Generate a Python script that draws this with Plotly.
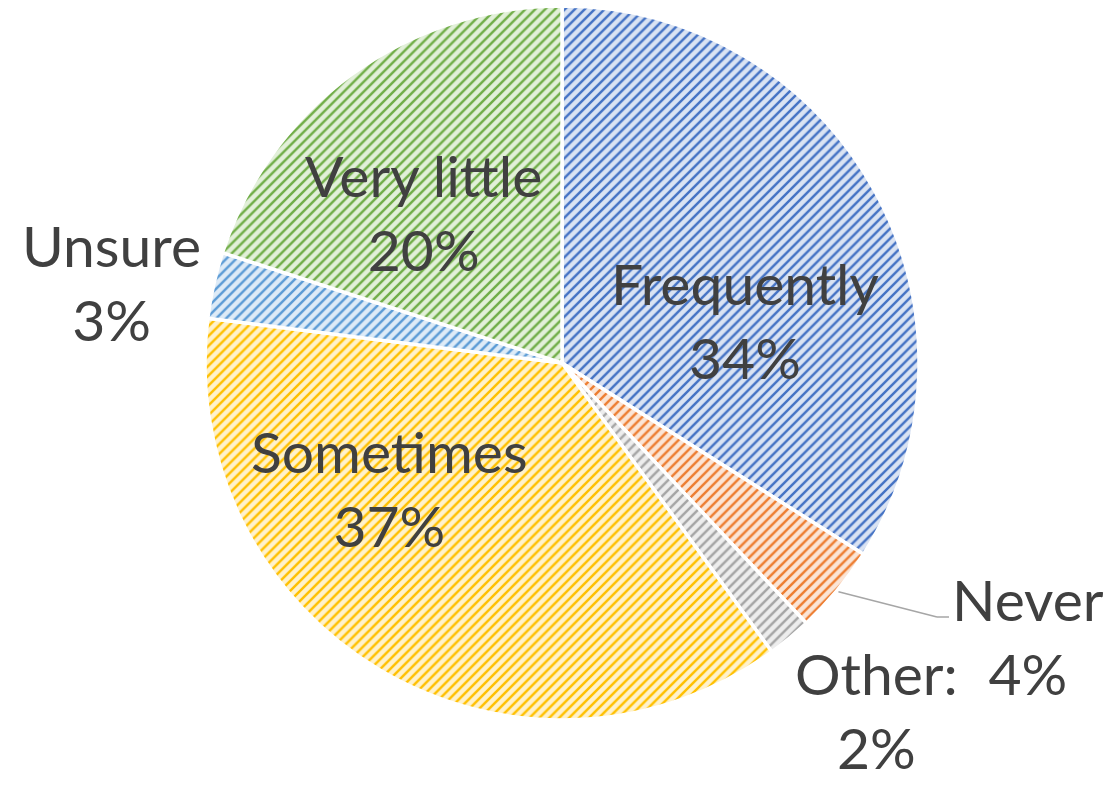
import math
import plotly.graph_objects as go

# Survey answers, clockwise from 12 o'clock
categories = ["Frequently", "Never", "Other:", "Sometimes", "Unsure", "Very little"]
shares = [34, 4, 2, 37, 3, 20]

# Stripe colour and background tint for each slice
line_colors = ["#4472C4", "#ED7D31", "#A5A5A5", "#FFC000", "#5B9BD5", "#70AD47"]
tint_colors = ["#DAE3F3", "#FBE5D6", "#EDEDED", "#FFF2CC", "#DEEBF7", "#E2F0D9"]

W, H = 1112, 785
CX, CY, R = 562, 363, 357  # pie centre and radius in pixels

# Where each label block sits, as offsets from the pie centre in units of R
label_offsets = [(0.513, 0.120), (1.305, -0.765), (0.882, -0.972),
                 (-0.482, -0.350), (-1.261, 0.227), (-0.389, 0.423)]

fig = go.Figure(go.Pie(
    labels=categories,
    values=shares,
    sort=False,
    direction="clockwise",
    rotation=0,
    textinfo="none",
    hoverinfo="label+percent",
    showlegend=False,
    domain=dict(x=[(CX - R) / W, (CX + R) / W],
                y=[1 - (CY + R) / H, 1 - (CY - R) / H]),
    marker=dict(
        colors=tint_colors,
        line=dict(color="white", width=3.5),
        pattern=dict(shape="/", fgcolor=line_colors, bgcolor=tint_colors,
                     size=7, solidity=0.35, fillmode="replace"),
    ),
))

total = sum(shares)
annotations = []
for name, val, (ox, oy) in zip(categories, shares, label_offsets):
    pct = round(100 * val / total)
    annotations.append(dict(
        x=(CX + ox * R) / W, y=1 - (CY - oy * R) / H,
        xref="paper", yref="paper", showarrow=False,
        text=f"{name}<br>{pct}%", align="center",
        xanchor="center", yanchor="middle",
        font=dict(family="Lato, 'Open Sans', sans-serif", size=57, color="#404040"),
    ))

# Leader line from the middle of the "Never" slice out to its label
start = sum(shares[:1])
mid_angle = math.radians((start + shares[1] / 2) / total * 360)
sx = CX + 1.005 * R * math.sin(mid_angle)
sy = CY - 1.005 * R * math.cos(mid_angle)
elbow = (937, 617)
end = (949, 617)
shapes = [
    dict(type="line", xref="paper", yref="paper",
         x0=sx / W, y0=1 - sy / H, x1=elbow[0] / W, y1=1 - elbow[1] / H,
         line=dict(color="#A6A6A6", width=1.5)),
    dict(type="line", xref="paper", yref="paper",
         x0=elbow[0] / W, y0=1 - elbow[1] / H, x1=end[0] / W, y1=1 - end[1] / H,
         line=dict(color="#A6A6A6", width=1.5)),
]

fig.update_layout(
    width=W, height=H,
    margin=dict(l=0, r=0, t=0, b=0),
    paper_bgcolor="white", plot_bgcolor="white",
    annotations=annotations, shapes=shapes,
)

fig.write_html("out.html")
